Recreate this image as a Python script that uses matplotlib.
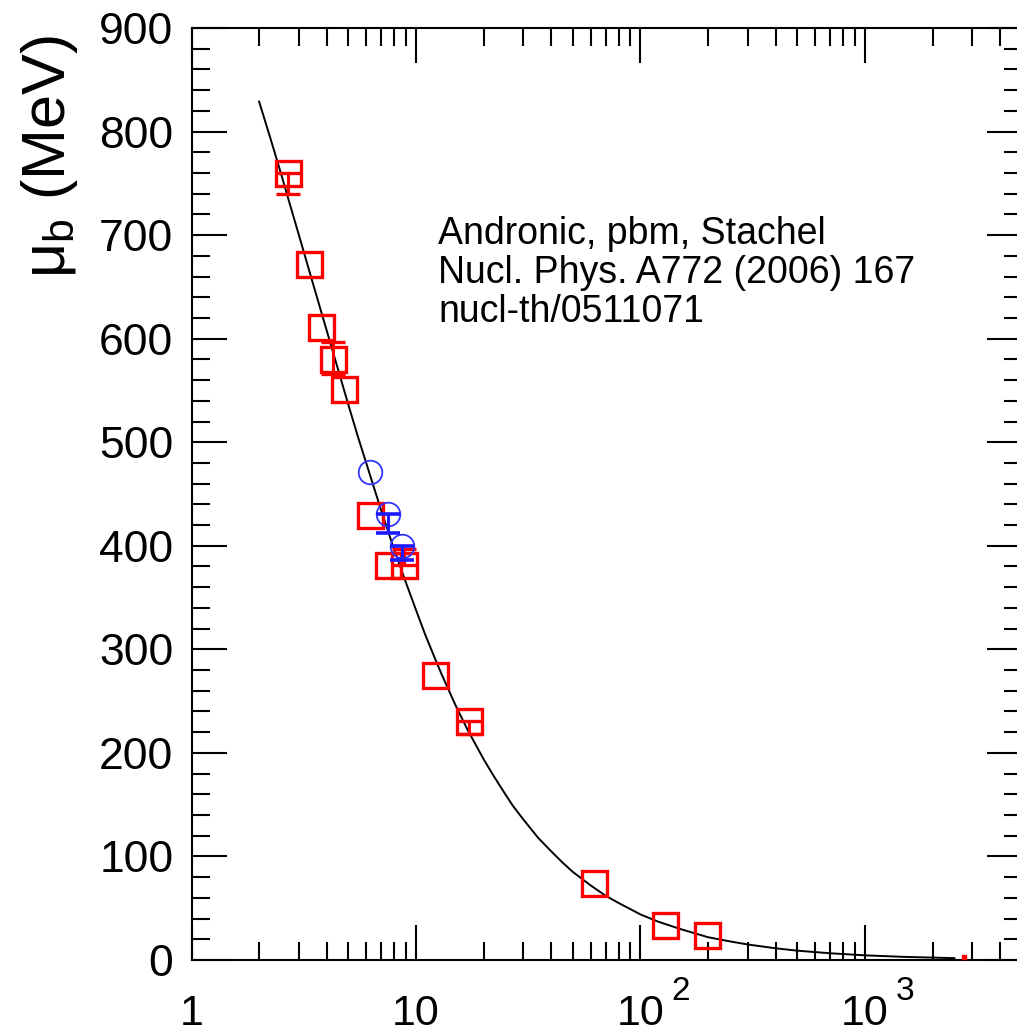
import numpy as np
import matplotlib
matplotlib.use("Agg")
import matplotlib.pyplot as plt
from matplotlib.ticker import FixedLocator, NullFormatter

plt.rcParams['font.family'] = ['Liberation Sans', 'DejaVu Sans']
plt.rcParams['mathtext.fontset'] = 'custom'
plt.rcParams['mathtext.rm'] = 'Liberation Sans'
plt.rcParams['mathtext.it'] = 'Liberation Sans:italic'
plt.rcParams['mathtext.default'] = 'regular'

# curve (sqrt(s) in GeV, mu_b in MeV)
curve_x = [2, 2.25, 2.5, 2.75, 3, 3.5, 4, 4.5, 5, 5.5, 6, 7, 8, 9, 10, 11, 12,
           13, 15, 17, 20, 22, 25, 27, 30, 35, 40, 45, 50, 60, 70, 80, 100,
           120, 150, 200, 250, 300, 400, 500, 700, 1000, 1500, 2500]
curve_y = [829, 793, 760, 729, 701, 651, 608, 570, 536, 506, 480, 434, 396,
           365, 338, 314, 294, 276, 246, 222, 194, 179, 160, 149, 136, 118,
           105, 94, 85, 72, 62, 55, 44, 37, 30, 22, 18, 15, 11.3, 9, 6.5,
           4.5, 3.0, 1.8]

# red squares
sq_x = [2.70, 3.35, 3.76, 4.25, 4.80, 6.27, 7.47, 8.80, 12.1, 17.3, 62, 129, 197]
sq_y = [760, 672, 611, 580, 551, 430, 381, 381, 275, 231, 74, 34, 24]
# red error bars (only the points that have them)
sq_err_x = [2.70, 4.25, 8.80, 17.3]
sq_err_y = [760, 580, 381, 231]
sq_err_lo = [20, 14, 0, 13]
sq_err_hi = [0, 17, 16, 0]

# blue circles
ci_x = [6.27, 7.47, 8.70]
ci_y = [471, 431, 400]
ci_err_x = [7.47, 8.70]
ci_err_y = [431, 400]
ci_err_lo = [19, 14]
ci_err_hi = [0, 0]

lhc_x = [2760]
lhc_y = [2.5]

xticks = [1, 10, 100, 1000]
xtick_base = ['1', '10', '10', '10']
xtick_exp = ['', '', '2', '3']

fig = plt.figure(figsize=(10.17, 10.36), dpi=100)
ax = fig.add_axes([191.5 / 1017, 76 / 1036, 830.4 / 1017, 932 / 1036])

ax.plot(curve_x, curve_y, color='black', lw=1.4, zorder=2)

red = '#ff0000'
blue = '#3333ff'
ax.plot(sq_x, sq_y, 's', ms=18, mfc='none', mec=red, mew=2.4, zorder=3)
ax.errorbar(sq_err_x, sq_err_y, yerr=[sq_err_lo, sq_err_hi], fmt='none',
            ecolor=red, elinewidth=2.2, capsize=8.5, capthick=2.4, zorder=3)
ax.plot(ci_x, ci_y, 'o', ms=17, mfc='none', mec=blue, mew=1.3, zorder=3)
ax.errorbar(ci_err_x, ci_err_y, yerr=[ci_err_lo, ci_err_hi], fmt='none',
            ecolor='#1a1aff', elinewidth=2.2, capsize=8.5, capthick=2.6, zorder=3)
ax.plot(lhc_x, lhc_y, 's', ms=2.5, color=red, zorder=4)

ax.set_xscale('log')
ax.set_xlim(1, 5000)
ax.set_ylim(0, 900)

ax.xaxis.set_major_locator(FixedLocator(xticks))
ax.xaxis.set_minor_locator(FixedLocator(
    [m * 10 ** e for e in range(0, 4) for m in range(2, 10) if m * 10 ** e < 5000]))
ax.xaxis.set_minor_formatter(NullFormatter())
ax.set_xticklabels(xtick_base, va='baseline')

ax.yaxis.set_major_locator(FixedLocator(np.arange(0, 901, 100)))
ax.yaxis.set_minor_locator(FixedLocator(np.arange(0, 901, 20)))

ax.tick_params(which='both', direction='in', top=True, right=True, width=1.5)
ax.tick_params(which='major', length=25)
ax.tick_params(which='minor', length=13)
ax.tick_params(axis='x', which='major', labelsize=31, pad=47)
ax.tick_params(axis='y', which='major', labelsize=32, pad=13)

# exponents of the x tick labels
for xv, e in zip(xticks, xtick_exp):
    if e:
        ax.annotate(e, xy=(xv, 0), xycoords=ax.get_xaxis_transform(),
                    xytext=(31 * 0.72, -40 * 0.72), textcoords='offset points',
                    fontsize=24, ha='left', va='baseline')

for s in ax.spines.values():
    s.set_linewidth(1.5)

fig.text(49 / 1017, 1 - 157 / 1036, r'$\mu_{b}$ (MeV)', rotation=90,
         ha='center', va='center', fontsize=44)

ax.text(438 / 1017, 1 - 322 / 1036, 'Andronic, pbm, Stachel\nNucl. Phys. A772 (2006) 167\nnucl-th/0511071',
        transform=fig.transFigure, fontsize=27, va='baseline', ha='left',
        linespacing=1.115)

fig.savefig('out.png', dpi=100)
